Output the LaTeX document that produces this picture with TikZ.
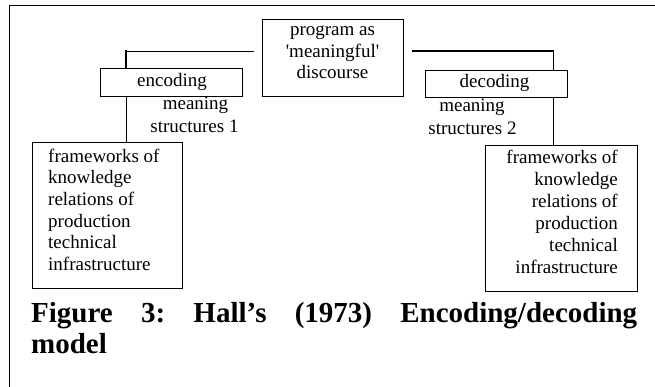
\documentclass[tikz,border=0pt]{standalone}
\usepackage{fontspec}
\setmainfont{Liberation Serif}
\newfontfamily\straightq{Liberation Serif}[Ligatures=TeXOff]
\begin{document}
\begin{tikzpicture}[x=1pt,y=-1pt,
  box/.style={draw, line width=1pt, inner sep=0pt},
  txt/.style={inner sep=0pt, font=\fontsize{19}{21.5}\selectfont},
  capt/.style={inner sep=0pt, font=\fontsize{29}{31}\selectfont\bfseries},
  thinline/.style={line width=1pt},
  heavy/.style={line width=2.6pt}]
\useasboundingbox (0,0) rectangle (655,387);
% outer frame (top and left edges)
\draw[thinline] (9,387) -- (9,6) -- (655,6);
% boxes
\node[box, anchor=north west, minimum width=141, minimum height=77] (prog) at (262,19) {};
\node[box, anchor=north west, minimum width=142, minimum height=28] (enc) at (100,68) {};
\node[box, anchor=north west, minimum width=142, minimum height=27] (dec) at (425,70) {};
\node[box, anchor=north west, minimum width=150, minimum height=146] (lfw) at (32,142) {};
\node[box, anchor=north west, minimum width=152, minimum height=146] (rfw) at (485,145) {};
% connectors left
\coordinate (lstart) at (254,52);
\coordinate (lcorner) at (126,52);
\draw[thinline] (lstart) -- (lcorner);
\draw[heavy] ([yshift=2pt]lcorner) -- (lcorner |- enc.north);
\draw[thinline] (lcorner |- enc.south) -- (lcorner |- lfw.north);
% connectors right
\coordinate (rstart) at (412,51);
\coordinate (rcorner) at (553,51);
\draw[heavy] (rstart) -- ([xshift=0.6pt]rcorner);
\draw[thinline] (rcorner) -- (rcorner |- dec.north);
\draw[thinline] (rcorner |- dec.south) -- (rcorner |- rfw.north);
% texts
\node[txt, anchor=base] (p1) at (332.5,36) {program as};
\node[txt, anchor=base] (p2) at (332.5,58) {{\straightq'}meaningful{\straightq'}};
\node[txt, anchor=base] (p3) at (332.5,79) {discourse};
\node[txt, anchor=base] (enct) at (172,87) {encoding};
\node[txt, anchor=base] (dect) at (494.5,88) {decoding};
\node[txt, anchor=base] (m1a) at (195.5,110) {meaning};
\node[txt, anchor=base] (m1b) at (194.5,133) {structures 1};
\node[txt, anchor=base] (m2a) at (472,112) {meaning};
\node[txt, anchor=base] (m2b) at (472.5,135) {structures 2};
\foreach \t [count=\i from 0] in {frameworks of, knowledge, relations of, production, technical, infrastructure}{
  \node[txt, anchor=base west] (lt\i) at (48,162.5+21.5*\i) {\t};
  \node[txt, anchor=base east] (rt\i) at (618,164+21.8*\i) {\t};
}
% caption
\node[capt, anchor=base west] (c1) at (31,322) {\hbox to 606pt{Figure\hfill 3:\hfill Hall’s\hfill (1973)\hfill Encoding/decoding}};
\node[capt, anchor=base west] (c2) at (31,353) {model};
\end{tikzpicture}
\end{document}
